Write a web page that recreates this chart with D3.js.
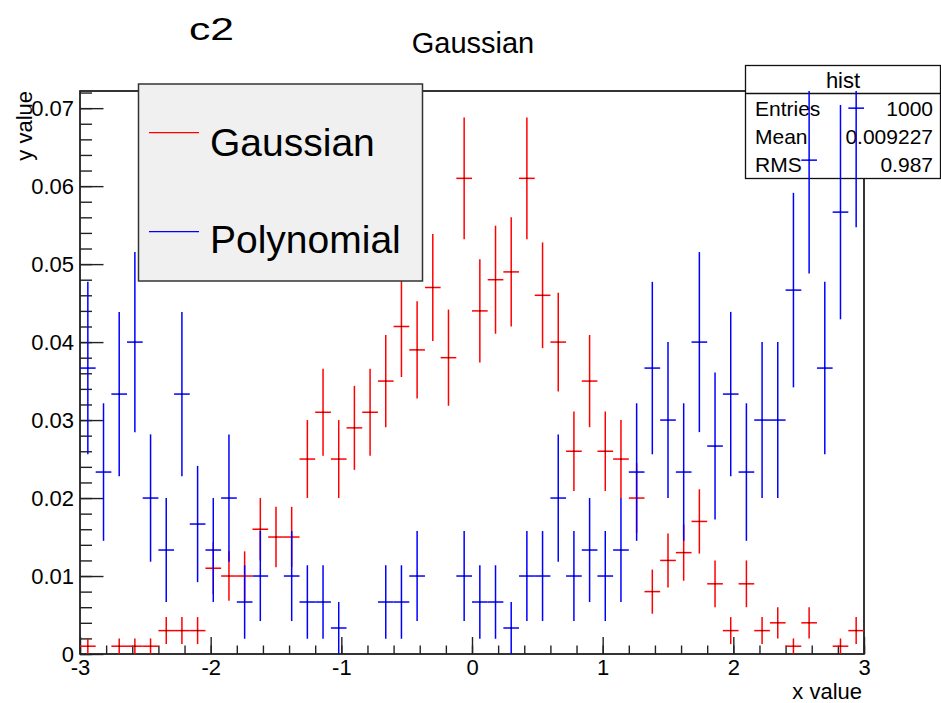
<!DOCTYPE html>
<html>
<head>
<meta charset="utf-8">
<script src="https://cdn.jsdelivr.net/npm/d3@7/dist/d3.min.js"></script>
<style>
  html, body { margin: 0; padding: 0; background: #fff; }
  svg { display: block; font-family: "Liberation Sans", Arial, Helvetica, sans-serif; }
</style>
</head>
<body>
<svg id="chart" width="941" height="703"></svg>
<script>
// ---- Data ----
const binLow = -3, binHigh = 3, nBins = 50;
const gaussCounts = [1,0,1,1,1,3,3,3,11,10,10,16,15,15,25,31,25,29,31,35,42,39,47,38,61,44,48,49,61,46,40,26,35,26,25,20,8,12,13,17,9,3,9,3,4,1,4,0,1,3];
const gaussEntries = 1000;
const polyCounts = [11,7,10,12,6,4,10,5,4,6,2,3,0,3,2,2,1,0,0,2,2,3,0,0,3,2,2,1,3,3,6,3,4,3,4,7,11,9,7,12,8,10,7,9,9,14,19,11,17,21];
const polyEntries = 300;
const yMax = 0.0722;
const xTickValues = [-3, -2, -1, 0, 1, 2, 3];
const yTickValues = [0, 0.01, 0.02, 0.03, 0.04, 0.05, 0.06, 0.07];
const statsLabels = ["Entries", "Mean", "RMS"];
const statsValues = ["1000", "0.009227", "0.987"];
const legendLabels = ["Gaussian", "Polynomial"];
const seriesColors = ["#ff0000", "#0000ff"];

// ---- Layout ----
const F = { left: 80, right: 864, top: 91, bottom: 654 };
const svg = d3.select("#chart");
const x = d3.scaleLinear().domain([binLow, binHigh]).range([F.left, F.right]);
const y = d3.scaleLinear().domain([0, yMax]).range([F.bottom, F.top]);
const bw = (binHigh - binLow) / nBins;

function hist(counts, entries) {
  return counts.map((c, i) => ({
    lo: binLow + i * bw, hi: binLow + (i + 1) * bw, c: binLow + (i + 0.5) * bw,
    v: c / entries, e: Math.sqrt(c) / entries, n: c
  })).filter(d => d.n > 0);
}

svg.append("defs").append("clipPath").attr("id", "frameclip")
  .append("rect").attr("x", F.left).attr("y", F.top)
  .attr("width", F.right - F.left).attr("height", F.bottom - F.top);

// frame
svg.append("rect").attr("x", F.left).attr("y", F.top)
  .attr("width", F.right - F.left).attr("height", F.bottom - F.top)
  .attr("fill", "#fff").attr("stroke", "#222").attr("stroke-width", 1.4);

// minor ticks
const yMinor = d3.range(0, yMax + 1e-9, 0.002);
const xMinor = d3.range(binLow, binHigh + 1e-9, 0.2);
svg.append("g").attr("transform", `translate(${F.left},0)`)
  .call(d3.axisLeft(y).tickValues(yMinor).tickSize(-12).tickSizeOuter(0).tickFormat(""))
  .call(g => g.select(".domain").remove())
  .selectAll("line").attr("stroke", "#222").attr("stroke-width", 1.4);
svg.append("g").attr("transform", `translate(0,${F.bottom})`)
  .call(d3.axisBottom(x).tickValues(xMinor).tickSize(-8.5).tickSizeOuter(0).tickFormat(""))
  .call(g => g.select(".domain").remove())
  .selectAll("line").attr("stroke", "#222").attr("stroke-width", 1.4);

// major ticks + labels
const yAxis = svg.append("g").attr("transform", `translate(${F.left},0)`)
  .call(d3.axisLeft(y).tickValues(yTickValues).tickSize(-23.5).tickSizeOuter(0).tickPadding(6)
    .tickFormat(d => d === 0 ? "0" : d.toFixed(2)));
yAxis.select(".domain").remove();
yAxis.selectAll("line").attr("stroke", "#222").attr("stroke-width", 1.4);
yAxis.selectAll("text").attr("font-size", 22).attr("fill", "#000")
  .attr("font-family", "Liberation Sans, Arial, sans-serif");

const xAxis = svg.append("g").attr("transform", `translate(0,${F.bottom})`)
  .call(d3.axisBottom(x).tickValues(xTickValues).tickSize(-17).tickSizeOuter(0).tickPadding(5)
    .tickFormat(d => String(d)));
xAxis.select(".domain").remove();
xAxis.selectAll("line").attr("stroke", "#222").attr("stroke-width", 1.4);
xAxis.selectAll("text").attr("font-size", 22).attr("fill", "#000")
  .attr("font-family", "Liberation Sans, Arial, sans-serif");

// frame border redraw
svg.append("rect").attr("x", F.left).attr("y", F.top)
  .attr("width", F.right - F.left).attr("height", F.bottom - F.top)
  .attr("fill", "none").attr("stroke", "#222").attr("stroke-width", 1.4);

function drawHist(data, color) {
  const g = svg.append("g").attr("clip-path", "url(#frameclip)");
  const sel = g.selectAll("g.bin").data(data).join("g").attr("class", "bin");
  sel.append("line")
    .attr("x1", d => x(d.c)).attr("x2", d => x(d.c))
    .attr("y1", d => y(d.v - d.e)).attr("y2", d => y(d.v + d.e))
    .attr("stroke", color).attr("stroke-width", 1.5);
  sel.append("line")
    .attr("x1", d => x(d.lo)).attr("x2", d => x(d.hi))
    .attr("y1", d => y(d.v)).attr("y2", d => y(d.v))
    .attr("stroke", color).attr("stroke-width", 1.5);
  sel.append("rect")
    .attr("x", d => x(d.c) - 0.6).attr("y", d => y(d.v) - 0.6)
    .attr("width", 1.2).attr("height", 1.2).attr("fill", "#000");
}

// red histogram
drawHist(hist(gaussCounts, gaussEntries), seriesColors[0]);

// stats box
const sb = { x: 745.5, y: 65.5, w: 195, h: 113, hdr: 28 };
svg.append("rect").attr("x", sb.x).attr("y", sb.y).attr("width", sb.w).attr("height", sb.h)
  .attr("fill", "#fff").attr("stroke", "#111").attr("stroke-width", 1.3);
svg.append("line").attr("x1", sb.x).attr("x2", sb.x + sb.w).attr("y1", sb.y + sb.hdr).attr("y2", sb.y + sb.hdr)
  .attr("stroke", "#111").attr("stroke-width", 1.3);
svg.append("text").attr("x", sb.x + sb.w / 2).attr("y", 88).attr("text-anchor", "middle")
  .attr("font-size", 22).text("hist");
const rowY = [115.5, 144, 172];
statsLabels.forEach((l, i) => {
  svg.append("text").attr("x", 755).attr("y", rowY[i]).attr("font-size", 21).text(l);
  svg.append("text").attr("x", 933).attr("y", rowY[i]).attr("font-size", 21)
    .attr("text-anchor", "end").text(statsValues[i]);
});

// blue histogram
drawHist(hist(polyCounts, polyEntries), seriesColors[1]);

// legend
const lg = { x: 138.5, y: 84, w: 284, h: 197 };
svg.append("rect").attr("x", lg.x).attr("y", lg.y).attr("width", lg.w).attr("height", lg.h)
  .attr("fill", "#f0f0f0").attr("stroke", "#333").attr("stroke-width", 1.5);
const legY = [132.7, 231.7];
const legBase = [156, 253];
legendLabels.forEach((l, i) => {
  svg.append("line").attr("x1", 149).attr("x2", 199).attr("y1", legY[i]).attr("y2", legY[i])
    .attr("stroke", seriesColors[i]).attr("stroke-width", 1.3);
  svg.append("text").attr("x", 210).attr("y", legBase[i]).attr("font-size", 39).text(l);
});

// titles
svg.append("text").attr("x", 473).attr("y", 53).attr("text-anchor", "middle")
  .attr("font-size", 29).text("Gaussian");
svg.append("text").attr("x", 189).attr("y", 40).attr("font-size", 32)
  .attr("textLength", 45).attr("lengthAdjust", "spacingAndGlyphs").text("c2");
svg.append("text").attr("x", 862).attr("y", 699).attr("text-anchor", "end")
  .attr("font-size", 22).text("x value");
svg.append("text").attr("transform", "translate(32,91) rotate(-90)").attr("text-anchor", "end")
  .attr("font-size", 22).text("y value");
</script>
</body>
</html>
